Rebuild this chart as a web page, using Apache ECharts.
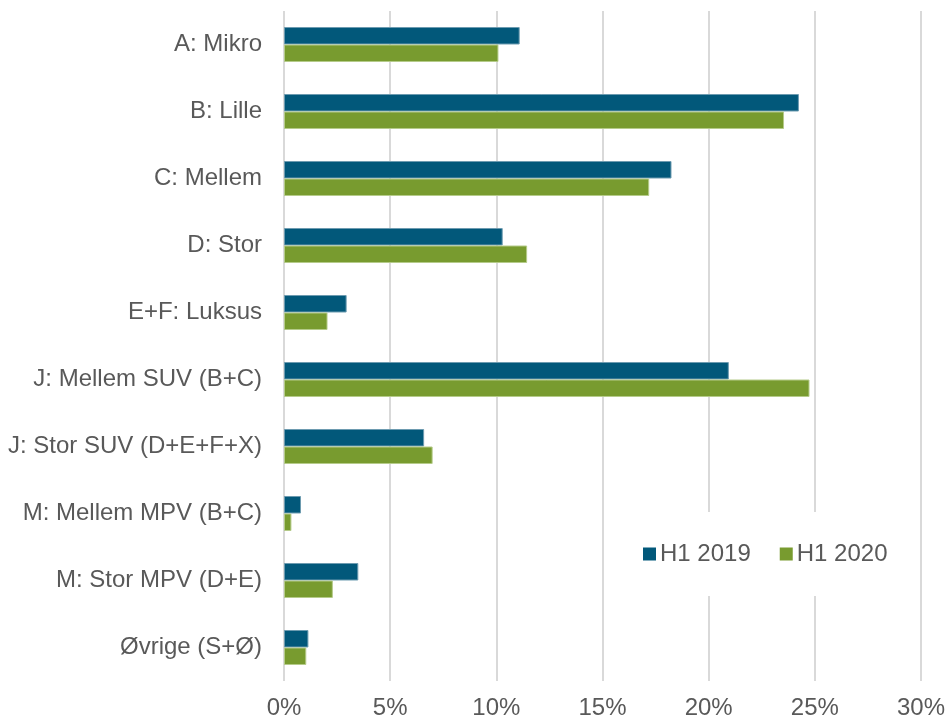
<!DOCTYPE html>
<html>
<head>
<meta charset="utf-8">
<script src="https://cdn.jsdelivr.net/npm/echarts@6/dist/echarts.min.js"></script>
<style>
  html, body { margin: 0; padding: 0; background: #fff; }
  #chart { width: 948px; height: 720px; }
</style>
</head>
<body>
<div id="chart"></div>
<script>
const categories = [
  'A: Mikro',
  'B: Lille',
  'C: Mellem',
  'D: Stor',
  'E+F: Luksus',
  'J: Mellem SUV (B+C)',
  'J: Stor SUV (D+E+F+X)',
  'M: Mellem MPV (B+C)',
  'M: Stor MPV (D+E)',
  'Øvrige (S+Ø)',
]
// andel i procent
const h1_2019 = [11.1, 24.25, 18.25, 10.3, 2.95, 20.95, 6.6, 0.8, 3.5, 1.15]
const h1_2020 = [10.1, 23.55, 17.2, 11.45, 2.05, 24.75, 7.0, 0.35, 2.3, 1.05]
const xTicks = [0, 5, 10, 15, 20, 25, 30]

const font = 'Liberation Sans, Arial, sans-serif'
const myChart = echarts.init(document.getElementById('chart'))

const option = {
  animation: false,
  grid: {
    left: 284,
    right: 24,
    top: 11,
    bottom: 38,
  },
  legend: {
    data: ['H1 2019', 'H1 2020'],
    left: 625,
    top: 512,
    padding: [30, 18],
    backgroundColor: '#fff',
    itemWidth: 13,
    itemHeight: 13,
    itemGap: 29,
    icon: 'rect',
    itemStyle: { borderWidth: 0 },
    textStyle: {
      fontFamily: font,
      fontSize: 24,
      color: '#595959',
      padding: [0, 0, 0, -1],
    },
  },
  xAxis: {
    type: 'value',
    min: xTicks[0],
    max: xTicks[xTicks.length - 1],
    interval: 5,
    axisLine: { show: false },
    axisTick: { show: false },
    axisLabel: {
      margin: 15,
      formatter: '{value}%',
      fontFamily: font,
      fontSize: 24,
      color: '#595959',
    },
    splitLine: {
      lineStyle: { color: '#d9d9d9', width: 2 },
    },
  },
  yAxis: {
    type: 'category',
    inverse: true,
    data: categories,
    axisLine: { show: false },
    axisTick: { show: false },
    axisLabel: {
      margin: 22,
      fontFamily: font,
      fontSize: 24,
      color: '#595959',
    },
  },
  series: [
    {
      name: 'H1 2019',
      type: 'bar',
      data: h1_2019,
      barWidth: 17.5,
      barGap: '0%',
      itemStyle: {
        color: '#02587a',
        borderColor: '#6d9bb0',
        borderWidth: 1,
      },
    },
    {
      name: 'H1 2020',
      type: 'bar',
      data: h1_2020,
      barWidth: 17.5,
      barGap: '0%',
      itemStyle: {
        color: '#789b2f',
        borderColor: '#b5cb8a',
        borderWidth: 1,
      },
    },
  ],
}

myChart.setOption(option)
</script>
</body>
</html>
